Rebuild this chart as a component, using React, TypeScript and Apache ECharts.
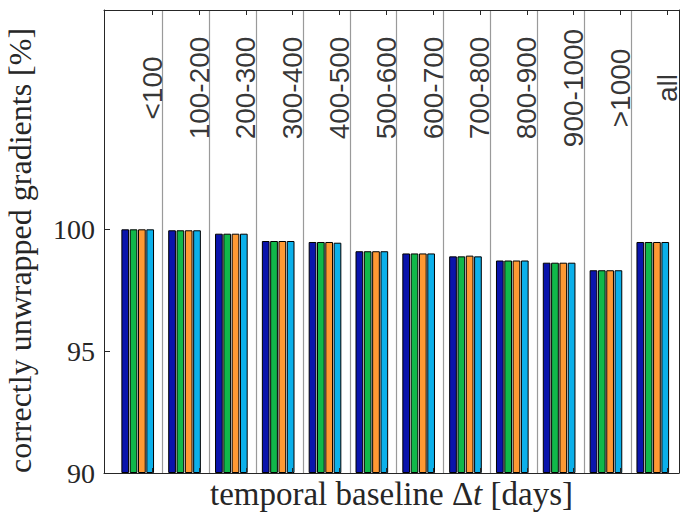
import React, { useEffect, useRef } from 'react';
import * as echarts from 'echarts';

const categories = ['<100', '100-200', '200-300', '300-400', '400-500', '500-600', '600-700', '700-800', '800-900', '900-1000', '>1000', 'all'];
const seriesA = [100.0, 99.96, 99.82, 99.52, 99.48, 99.1, 99.01, 98.89, 98.72, 98.63, 98.32, 99.48];
const seriesB = [100.0, 99.96, 99.82, 99.52, 99.48, 99.1, 99.01, 98.89, 98.72, 98.63, 98.32, 99.48];
const seriesC = [100.0, 99.96, 99.82, 99.52, 99.48, 99.1, 99.01, 98.92, 98.72, 98.63, 98.32, 99.48];
const seriesD = [100.0, 99.96, 99.82, 99.52, 99.45, 99.1, 99.01, 98.89, 98.72, 98.63, 98.32, 99.48];
const yTicks = [90, 95, 100];

const COLORS = ['#0a14ac', '#10b84a', '#ff9933', '#0cb0ea'];
const LABEL_OFFSET = 0.31;
const SEP_OFFSET = 0.53;
const LABEL_Y = 105.8;

export default function App() {
  const ref = useRef<HTMLDivElement>(null);
  useEffect(() => {
    if (!ref.current) return;
    const chart = echarts.init(ref.current, undefined, { renderer: 'svg' });
    const xs = categories.map((_, i) => i + 1);
    const tickX = xs.map((x) => x + LABEL_OFFSET);
    const seps = xs.slice(0, -1).map((x) => x + SEP_OFFSET);
    const axisColor = '#262626';
    const mkBar = (vals: number[], idx: number) => ({
      type: 'bar',
      xAxisIndex: 0,
      yAxisIndex: 0,
      data: vals.map((v, i) => [xs[i], v]),
      barWidth: 7.7,
      barGap: '8%',
      itemStyle: { color: COLORS[idx], borderColor: '#000', borderWidth: 1 },
      silent: true,
      z: 2,
    });
    const xBase = {
      type: 'value',
      min: 0.28,
      max: 12.56,
      z: 5,
      axisLine: { show: true, onZero: false, lineStyle: { color: axisColor, width: 1 } },
      axisTick: { show: true, inside: true, length: 5, customValues: tickX, lineStyle: { color: axisColor } },
      axisLabel: { show: false },
      splitLine: { show: false },
    };
    chart.setOption({
      animation: false,
      grid: { left: 104, right: 10, top: 10, bottom: 39, containLabel: false, outerBoundsMode: 'none' },
      xAxis: [
        {
          ...xBase,
          position: 'bottom',
          name: 'temporal baseline Δ{i|t} [days]',
          nameLocation: 'middle',
          nameGap: 3,
          nameTextStyle: {
            fontFamily: 'Liberation Serif',
            fontSize: 33,
            lineHeight: 36,
            color: '#262626',
            verticalAlign: 'top',
            rich: { i: { fontFamily: 'Liberation Serif', fontStyle: 'italic', fontSize: 33, lineHeight: 36, color: '#262626' } },
          },
        },
        { ...xBase, position: 'top' },
      ],
      yAxis: [
        {
          type: 'value',
          min: 90,
          max: 109,
          startValue: 90,
          z: 5,
          axisLine: { show: true, onZero: false, lineStyle: { color: axisColor, width: 1 } },
          axisTick: { show: true, inside: true, length: 6, customValues: yTicks, lineStyle: { color: axisColor } },
          axisLabel: { show: true, customValues: yTicks, fontFamily: 'Liberation Serif', fontSize: 28, color: '#262626', margin: 9 },
          splitLine: { show: false },
          name: 'correctly unwrapped gradients [%]',
          nameLocation: 'middle',
          nameRotate: 90,
          nameGap: 68,
          nameTextStyle: { fontFamily: 'Liberation Serif', fontSize: 32, lineHeight: 32, color: '#262626', padding: [0, 18, 0, 0] },
        },
        {
          type: 'value',
          min: 90,
          max: 109,
          position: 'right',
          z: 5,
          axisLine: { show: true, onZero: false, lineStyle: { color: axisColor, width: 1 } },
          axisTick: { show: false },
          axisLabel: { show: false },
          splitLine: { show: false },
        },
      ],
      series: [
        mkBar(seriesA, 0),
        mkBar(seriesB, 1),
        mkBar(seriesC, 2),
        mkBar(seriesD, 3),
        {
          type: 'scatter',
          xAxisIndex: 0,
          yAxisIndex: 0,
          symbolSize: 0,
          silent: true,
          data: categories.map((_, i) => [tickX[i], LABEL_Y]),
          label: {
            show: true,
            position: 'inside',
            formatter: (p: any) => categories[p.dataIndex],
            rotate: 90,
            align: 'center',
            verticalAlign: 'middle',
            fontFamily: 'Liberation Sans',
            fontSize: 28,
            color: '#000',
          },
          markLine: {
            silent: true,
            symbol: ['none', 'none'],
            label: { show: false },
            lineStyle: { color: '#9a9a9a', type: 'solid', width: 1.2 },
            data: seps.map((s) => ({ xAxis: s })),
          },
          z: 6,
        },
      ],
    });
    return () => chart.dispose();
  }, []);
  return <div ref={ref} style={{ width: 689, height: 512, position: 'absolute', left: 0, top: 0 }} />;
}
